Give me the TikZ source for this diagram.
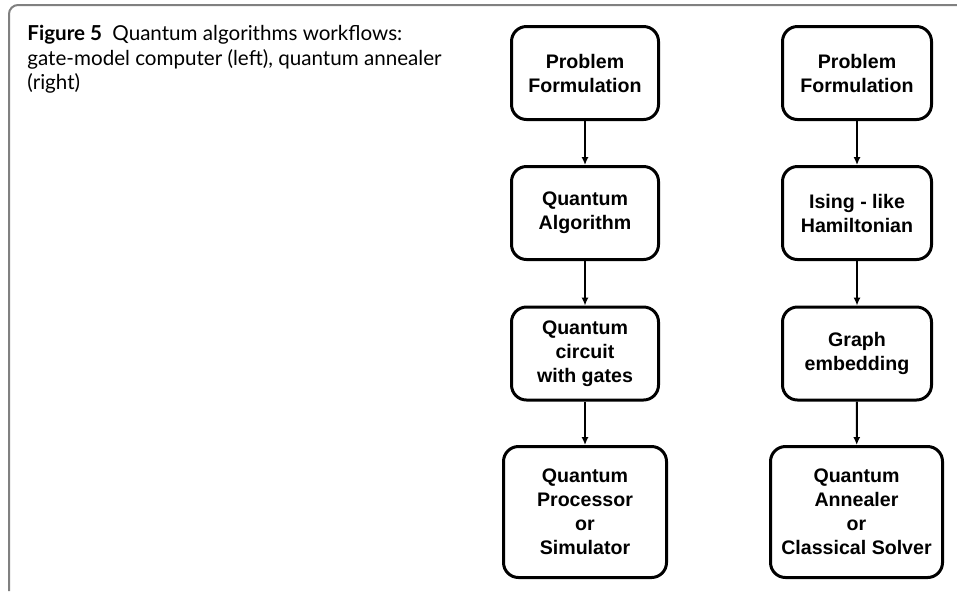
\documentclass[tikz,border=0pt]{standalone}
\usepackage{fontspec}
\setmainfont{Liberation Sans}
\newfontfamily\captionfont{Lato}
\usetikzlibrary{arrows.meta}

\definecolor{FrameColor}{rgb}{0.50,0.50,0.50}
\tikzstyle{base}=[rectangle,
                    draw=black,
                    line width=1.5pt,
                    rounded corners=7.5pt,
                    align=center,
                    font=\fontsize{9.8}{12}\selectfont\bfseries,
                    inner sep=0pt]
\tikzstyle{stage}=[base, minimum width=73.5pt, minimum height=46.5pt]
\tikzstyle{stagewide}=[base, minimum height=65.5pt]
\tikzstyle{flow}=[-{Latex[length=4pt,width=3.6pt]}, line width=1pt]

\begin{document}
\begin{tikzpicture}[x=0.5pt, y=-0.5pt]
    \useasboundingbox (0,0) rectangle (957,591);

    % caption frame
    \draw[FrameColor, line width=1pt] (9,591) -- (9,14) arc[start angle=180, end angle=270, radius=9] -- (957,5);
    \node at (27,25) (caption) [anchor=north west, align=left, inner sep=0pt,
                                font=\captionfont\fontsize{10.3}{12.25}\selectfont]
        {\textbf{Figure 5}\enspace Quantum algorithms workflows:\\
         gate-model computer (left), quantum annealer\\
         (right)};

    % gate-model workflow
    \node at (585,  73.0) (gate_problem)   [stage]                      {Problem\\Formulation};
    \node at (585, 213.0) (gate_algorithm) [stage]                      {Quantum\\Algorithm};
    \node at (585, 353.5) (gate_circuit)   [stage]                      {Quantum\\circuit\\with gates};
    \node at (585, 512.0) (gate_processor) [stagewide, minimum width=81.5pt] {Quantum\\Processor\\or\\Simulator};

    % annealer workflow
    \node at (857,  73.0) (anneal_problem) [stage, minimum width=74.5pt] {Problem\\Formulation};
    \node at (857, 213.0) (anneal_ising)   [stage, minimum width=74.5pt] {Ising - like\\Hamiltonian};
    \node at (857, 353.5) (anneal_graph)   [stage, minimum width=74.5pt] {Graph\\embedding};
    \node at (856.5, 512.0) (anneal_solver) [stagewide, minimum width=86pt] {Quantum\\Annealer\\or\\Classical Solver};

    \draw[flow] (gate_problem)   -- (gate_algorithm);
    \draw[flow] (gate_algorithm) -- (gate_circuit);
    \draw[flow] (gate_circuit)   -- (gate_processor);
    \draw[flow] (anneal_problem) -- (anneal_ising);
    \draw[flow] (anneal_ising)   -- (anneal_graph);
    \draw[flow] (anneal_graph)   -- (anneal_solver);
\end{tikzpicture}
\end{document}
